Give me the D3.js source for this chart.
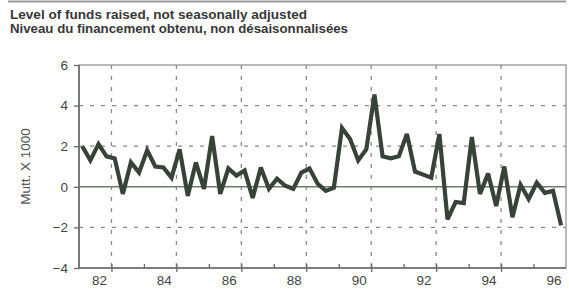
<!DOCTYPE html>
<html>
<head>
<meta charset="utf-8">
<script src="https://cdn.jsdelivr.net/npm/d3@7"></script>
<style>
  html, body { margin: 0; padding: 0; background: #fff; }
  svg { display: block; }
</style>
</head>
<body>
<svg id="chart" width="569" height="290"></svg>
<script>
// ---- Data (quarterly, 1982Q1 .. 1996Q4) ----
const titleLines = [
  "Level of funds raised, not seasonally adjusted",
  "Niveau du financement obtenu, non désaisonnalisées"
];
const titleWidths = [297, 338];
const yAxisLabel = "Mutt. X 1000";
const startYear = 1982;
const values = [
  2.0, 1.3, 2.1, 1.5, 1.4, -0.35, 1.2, 0.7,
  1.8, 1.0, 0.95, 0.45, 1.85, -0.45, 1.2, -0.1,
  2.5, -0.35, 0.9, 0.55, 0.8, -0.55, 0.95, -0.1,
  0.4, 0.05, -0.1, 0.7, 0.9, 0.15, -0.2, -0.05,
  2.9, 2.35, 1.3, 1.85, 4.55, 1.5, 1.4, 1.5,
  2.6, 0.75, 0.6, 0.45, 2.6, -1.6, -0.75, -0.8,
  2.45, -0.35, 0.65, -0.95, 1.0, -1.5, 0.1, -0.6,
  0.2, -0.3, -0.2, -1.9
];
const yTicks = [-4, -2, 0, 2, 4, 6];
const xLabelYears = [1982, 1984, 1986, 1988, 1990, 1992, 1994, 1996];
const xLabels = ["82", "84", "86", "88", "90", "92", "94", "96"];
const xGridYears = [1983, 1985, 1987, 1989, 1991, 1993, 1995];
const xMinorYears = [1984, 1986, 1988, 1990, 1992, 1994, 1996];

// quarter positions
const points = values.map((v, i) => ({
  t: startYear + Math.floor(i / 4) + (i % 4) * 0.25 + 0.1,
  v: v
}));

const svg = d3.select("#chart");
const L = 79, R = 566, T = 65, B = 268;

const x = d3.scaleLinear().domain([1982, 1997]).range([L, R]);
const y = d3.scaleLinear().domain([-4, 6]).range([B, T]);

const textColor = "#454545";
const gridColor = "#8a8a8a";
const font = "Liberation Sans, Arial, sans-serif";

// top rule
svg.append("line").attr("x1", 8).attr("x2", 566).attr("y1", 1.5).attr("y2", 1.5)
  .attr("stroke", "#9a9a9a").attr("stroke-width", 2);

// Titles
svg.selectAll("text.title").data(titleLines).enter().append("text")
  .attr("class", "title")
  .attr("x", 10).attr("y", (d, i) => 19 + i * 13.5)
  .attr("font-family", font)
  .attr("font-weight", "bold")
  .attr("font-size", 12.5)
  .attr("fill", "#383838")
  .attr("textLength", (d, i) => titleWidths[i])
  .attr("lengthAdjust", "spacingAndGlyphs")
  .text(d => d);

// horizontal gridlines
svg.append("g").selectAll("line").data(yTicks.filter(d => d !== 0 && d !== -4 && d !== 6)).enter()
  .append("line")
  .attr("x1", L).attr("x2", R)
  .attr("y1", d => y(d)).attr("y2", d => y(d))
  .attr("stroke", gridColor).attr("stroke-width", 1.3)
  .attr("stroke-dasharray", "4,7");

// vertical gridlines
svg.append("g").selectAll("line").data(xGridYears).enter()
  .append("line")
  .attr("x1", d => x(d)).attr("x2", d => x(d))
  .attr("y1", T).attr("y2", B)
  .attr("stroke", gridColor).attr("stroke-width", 1.3)
  .attr("stroke-dasharray", "4,7");

// zero line
svg.append("line")
  .attr("x1", L).attr("x2", R).attr("y1", y(0)).attr("y2", y(0))
  .attr("stroke", "#6f7a6f").attr("stroke-width", 1.5);

// frame
svg.append("rect")
  .attr("x", L).attr("y", T).attr("width", R - L).attr("height", B - T)
  .attr("fill", "none").attr("stroke", "#8c8c8c").attr("stroke-width", 1.2);
svg.append("line").attr("x1", L).attr("x2", L).attr("y1", T).attr("y2", B)
  .attr("stroke", "#6a6a6a").attr("stroke-width", 1.6);
svg.append("line").attr("x1", L).attr("x2", R).attr("y1", B).attr("y2", B)
  .attr("stroke", "#6a6a6a").attr("stroke-width", 1.6);

// Y axis
const yAxis = d3.axisLeft(y).tickValues(yTicks).tickSize(5).tickPadding(6)
  .tickFormat(d3.format("d"));
const gy = svg.append("g").attr("transform", `translate(${L},0)`).call(yAxis);
gy.select(".domain").remove();
gy.selectAll(".tick line").attr("stroke", "#6a6a6a").attr("stroke-width", 1.3);
gy.selectAll(".tick text")
  .attr("font-family", font)
  .attr("font-size", 13.5).attr("fill", textColor);

// X axis: major ticks at gridlines, minor ticks at other years
const gxMajor = svg.append("g").attr("transform", `translate(0,${B})`)
  .call(d3.axisBottom(x).tickValues(xGridYears).tickSize(4).tickFormat(""));
gxMajor.select(".domain").remove();
gxMajor.selectAll(".tick line").attr("y1", -4).attr("stroke", "#6a6a6a").attr("stroke-width", 1.3);

const gxMinor = svg.append("g").attr("transform", `translate(0,${B})`)
  .call(d3.axisBottom(x).tickValues(xMinorYears).tickSize(0).tickFormat(""));
gxMinor.select(".domain").remove();
gxMinor.selectAll(".tick line").attr("y1", -4).attr("y2", 0).attr("stroke", "#6a6a6a").attr("stroke-width", 1.3);

// X labels
svg.append("g").selectAll("text").data(xLabelYears).enter().append("text")
  .attr("x", d => x(d + 0.63))
  .attr("y", B + 17)
  .attr("text-anchor", "middle")
  .attr("font-family", font)
  .attr("font-size", 13.5).attr("fill", textColor)
  .text((d, i) => xLabels[i]);

// Y axis title
svg.append("text")
  .attr("transform", `translate(30,${(T + B) / 2}) rotate(-90)`)
  .attr("text-anchor", "middle")
  .attr("font-family", font)
  .attr("font-size", 13.5).attr("fill", "#555")
  .text(yAxisLabel);

// series line
const line = d3.line().x(d => x(d.t)).y(d => y(d.v));
svg.append("path").datum(points)
  .attr("d", line)
  .attr("fill", "none")
  .attr("stroke", "#384338")
  .attr("stroke-width", 4.2)
  .attr("stroke-linejoin", "miter")
  .attr("stroke-miterlimit", 3);
</script>
</body>
</html>
